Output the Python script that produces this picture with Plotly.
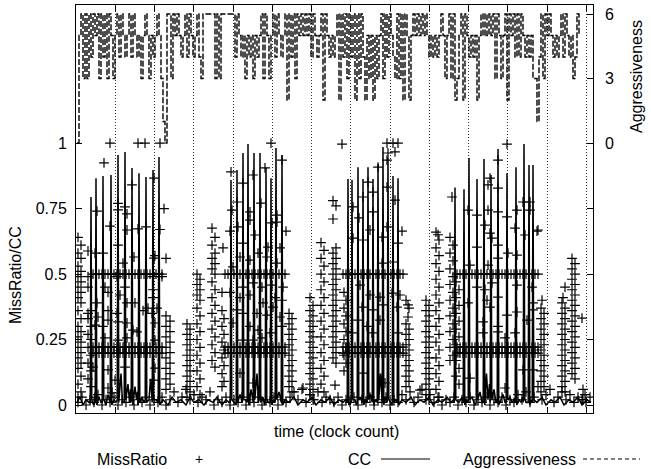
import plotly.graph_objects as go

# ---------------- data (time axis in arbitrary clock units) ----------------
# Aggressiveness level, sampled every 2 time units starting at t=1
agg_v = [0,5,6,3,6,3,6,4,6,5,
         6,3,6,4,6,3,6,5,3,5,
         6,4,6,5,4,5,6,4,6,5,
         4,5,3,5,6,5,3,5,4,5,
         6,5,3,1,0,6,6,3,6,5,
         6,5,4,5,6,4,6,5,4,5,
         6,4,3,6,6,6,6,6,6,3,
         6,3,6,6,6,6,6,6,6,4,
         6,5,4,5,3,5,4,5,3,5,
         4,5,6,3,6,5,3,5,6,4,
         6,5,4,5,6,2,6,4,6,3,
         6,5,6,5,6,5,6,4,6,5,
         4,5,6,2,6,5,4,5,4,5,
         6,2,6,4,6,3,6,4,6,2,
         6,3,6,4,2,5,3,5,2,5,
         3,5,6,3,6,4,6,5,4,3,
         6,3,6,2,6,5,2,5,6,5,
         6,5,6,5,6,5,4,5,4,5,
         4,5,6,5,3,5,6,3,6,2,
         3,5,6,2,6,5,4,5,4,5,
         2,5,6,5,6,5,6,5,6,3,
         6,5,3,5,6,2,6,5,6,4,
         6,4,6,5,4,5,4,5,3,3,
         1,4,6,3,6,5,6,5,4,5,
         4,5,6,4,6,5,4,5,3,4,
         6,5]
agg_t = list(range(1, 1 + 2 * len(agg_v), 2))

# CC (time, value)
cc_t = ([1, 4, 7, 10, 13] + [14.2, 15, 15.8, 17.5] + [19.2, 20, 20.8, 23, 25]
        + [26.2, 27, 27.8, 30, 32, 33.5] + [34.2, 35, 35.8, 38, 40]
        + [41.2, 42, 42.8, 45, 46.5] + [48.2, 49, 49.8, 52, 53.5, 54.5]
        + [55.2, 56, 56.8, 59, 60.5, 61.5] + [62.2, 63, 63.8, 66, 68]
        + [69.2, 70, 70.8, 73, 74.5, 75.5] + [76.2, 77, 77.8, 80, 81.5]
        + [82.2, 83, 83.8]
        + [87, 92, 96, 100, 105, 110, 114, 118, 123, 128, 132, 137, 141, 146, 150, 153]
        + [154.2, 155, 155.8, 158] + [160.2, 161, 161.8, 164, 165.5]
        + [166.2, 167, 167.8, 169.5] + [171.2, 172, 172.8, 175, 176.5]
        + [177.2, 178, 178.8, 181, 182.5] + [183.2, 184, 184.8, 187, 188.5]
        + [189.2, 190, 190.8, 192.5] + [194.2, 195, 195.8, 197.5]
        + [199.2, 200, 200.8, 203, 204.5] + [205.2, 206, 206.8]
        + [209, 213, 218, 222, 227, 231, 236, 240, 245, 249, 254, 258, 263, 267, 270]
        + [271.2, 272, 272.8] + [275.2, 276, 276.8, 279, 280.5]
        + [281.2, 282, 282.8, 284.5] + [286.2, 287, 287.8, 289.5]
        + [291.2, 292, 292.8, 294.5] + [296.2, 297, 297.8, 299.5]
        + [301.2, 302, 302.8, 304.5, 305.5] + [306.2, 307, 307.8, 309.5]
        + [311.2, 312, 312.8, 314.5] + [316.2, 317, 317.8, 319.5]
        + [321.2, 322, 322.8]
        + [326, 330, 335, 339, 344, 348, 353, 357, 362, 366, 371, 375, 377.5]
        + [378.2, 379, 379.8, 383, 386] + [387.2, 388, 388.8, 390.5]
        + [392.2, 393, 393.8, 396, 398, 399.5] + [400.2, 401, 401.8, 404, 406]
        + [407.2, 408, 408.8, 410.5, 412, 413.5] + [414.2, 415, 415.8, 418, 420]
        + [421.2, 422, 422.8, 425, 427, 429] + [430.2, 431, 431.8, 434, 436, 438]
        + [439.2, 440, 440.8, 443, 445, 446.5] + [447.2, 448, 448.8, 450.5]
        + [452.2, 453, 453.8, 455.5] + [456.2, 457, 457.8]
        + [461, 466, 470, 475, 479, 484, 488, 493, 497, 502, 506, 511, 515])
cc_v = ([0.01, 0.03, 0.0, 0.02, 0.01] + [0.01, 0.794, 0.02, 0.0] + [0.01, 0.866, 0.0, 0.03, 0.01]
        + [0.01, 0.874, 0.02, 0.0, 0.04, 0.01] + [0.01, 0.878, 0.0, 0.02, 0.01]
        + [0.02, 0.954, 0.01, 0.12, 0.01] + [0.01, 0.966, 0.02, 0.08, 0.01, 0.06]
        + [0.01, 0.905, 0.0, 0.07, 0.02, 0.05] + [0.0, 0.885, 0.01, 0.03, 0.01]
        + [0.02, 0.870, 0.01, 0.02, 0.1, 0.01] + [0.01, 0.897, 0.02, 0.02, 0.01]
        + [0.01, 0.947, 0.0]
        + [0.02, 0.0, 0.03, 0.01, 0.02, 0.0, 0.03, 0.01, 0.02, 0.0, 0.02, 0.01, 0.03, 0.0, 0.02, 0.01]
        + [0.01, 0.859, 0.02, 0.01] + [0.0, 0.897, 0.01, 0.04, 0.01]
        + [0.01, 0.962, 0.02, 0.02] + [0.01, 0.996, 0.0, 0.06, 0.01]
        + [0.01, 0.962, 0.02, 0.12, 0.01] + [0.02, 0.962, 0.01, 0.03, 0.0]
        + [0.01, 0.905, 0.02, 0.01] + [0.01, 0.866, 0.0, 0.02]
        + [0.01, 0.981, 0.02, 0.05, 0.01] + [0.01, 0.954, 0.0]
        + [0.02, 0.01, 0.03, 0.0, 0.02, 0.01, 0.03, 0.0, 0.02, 0.01, 0.03, 0.0, 0.02, 0.01, 0.02]
        + [0.01, 0.863, 0.0] + [0.01, 0.859, 0.02, 0.02, 0.0]
        + [0.01, 0.908, 0.02, 0.03] + [0.01, 0.863, 0.0, 0.02]
        + [0.01, 0.908, 0.02, 0.04] + [0.01, 0.863, 0.0, 0.02]
        + [0.01, 0.920, 0.02, 0.12, 0.01] + [0.01, 0.985, 0.0, 0.03]
        + [0.01, 0.943, 0.02, 0.01] + [0.0, 0.874, 0.01, 0.02]
        + [0.01, 0.866, 0.0]
        + [0.02, 0.01, 0.03, 0.0, 0.02, 0.01, 0.03, 0.0, 0.02, 0.01, 0.03, 0.01, 0.02]
        + [0.01, 0.83, 0.02, 0.01, 0.03] + [0.01, 0.824, 0.0, 0.02]
        + [0.01, 0.943, 0.02, 0.03, 0.01, 0.0] + [0.01, 0.863, 0.02, 0.05, 0.01]
        + [0.01, 0.939, 0.0, 0.12, 0.02, 0.08] + [0.01, 0.878, 0.02, 0.06, 0.01]
        + [0.01, 0.977, 0.0, 0.02, 0.04, 0.01] + [0.01, 0.885, 0.02, 0.03, 0.01, 0.02]
        + [0.01, 0.908, 0.0, 0.02, 0.01, 0.03] + [0.01, 0.996, 0.02, 0.01]
        + [0.01, 0.916, 0.0, 0.02] + [0.01, 0.916, 0.02]
        + [0.01, 0.03, 0.0, 0.02, 0.01, 0.03, 0.0, 0.02, 0.01, 0.03, 0.0, 0.02, 0.01])

# MissRatio: near-zero samples every 4 time units
base_v = [0.01,0.03,0.0,0.02,0.01,0.04,0.0,0.02,0.01,0.03,
          0.0,0.02,0.01,0.03,0.0,0.02,0.01,0.03,0.0,0.02,
          0.01,0.03,0.0,0.02,0.05,0.01,0.03,0.06,0.02,0.04,
          0.01,0.03,0.02,0.05,0.0,0.02,0.01,0.03,0.0,0.02,
          0.01,0.03,0.0,0.02,0.01,0.03,0.0,0.02,0.01,0.03,
          0.0,0.02,0.01,0.03,0.05,0.02,0.06,0.01,0.04,0.02,
          0.05,0.01,0.03,0.02,0.01,0.03,0.0,0.02,0.01,0.03,
          0.0,0.02,0.01,0.03,0.0,0.02,0.01,0.03,0.0,0.02,
          0.01,0.04,0.02,0.05,0.01,0.03,0.06,0.02,0.04,0.01,
          0.03,0.0,0.02,0.01,0.03,0.0,0.02,0.01,0.03,0.0,
          0.02,0.01,0.03,0.0,0.02,0.01,0.03,0.0,0.02,0.01,
          0.04,0.02,0.05,0.01,0.03,0.07,0.02,0.04,0.06,0.01,
          0.03,0.05,0.02,0.04,0.01,0.03,0.02,0.01,0.03]
base_t = list(range(2, 2 + 4 * len(base_v), 4))

# MissRatio: recurring levels during the four active phases
rowA_t = [17, 20, 23, 26, 29, 32, 35, 38, 41, 44, 47, 50, 53, 56, 59, 62, 65, 68, 71, 74, 77, 80, 83, 86]
rowB_t = [149, 152, 155, 158, 161, 164, 167, 170, 173, 176, 179, 182, 185, 188, 191, 194, 197, 200, 203, 206, 209]
rowC_t = [267, 270, 273, 276, 279, 282, 285, 288, 291, 294, 297, 300, 303, 306, 309, 312, 315, 318, 321, 324, 327]
rowD_t = [381, 384, 387, 390, 393, 396, 399, 402, 405, 408, 411, 414, 417, 420, 423, 426, 429, 432, 435, 438,
          441, 444, 447, 450, 453, 456, 459, 462]
row_levels = [0.5, 0.221, 0.198]

# MissRatio: scattered samples in each phase
scA_t = [34, 62, 69, 84, 28, 88, 21, 42, 49, 42, 56, 78, 51, 84, 34, 42, 51, 62, 70, 12, 19, 27, 47, 58, 78, 79, 90,
         12, 41, 49, 77, 86, 77, 29, 32, 44, 21, 51, 59, 77, 81, 67, 72, 76, 32, 22, 41, 12, 19, 27, 32, 42, 51,
         57, 61, 79, 79, 29, 42, 51, 17, 32, 49, 79, 78, 39, 32, 19, 36]
scA_v = [1.0, 1.0, 1.0, 1.0, 0.924, 0.75, 0.74, 0.77, 0.756, 0.745, 0.84, 0.866, 0.73, 0.67, 0.683, 0.61, 0.668,
         0.672, 0.68, 0.588, 0.58, 0.58, 0.542, 0.565, 0.561, 0.57, 0.56, 0.49, 0.49, 0.45, 0.49, 0.49, 0.44,
         0.45, 0.43, 0.42, 0.39, 0.39, 0.39, 0.41, 0.37, 0.36, 0.37, 0.35, 0.36, 0.336, 0.35, 0.35, 0.305, 0.3,
         0.324, 0.317, 0.313, 0.286, 0.279, 0.313, 0.248, 0.256, 0.248, 0.256, 0.145, 0.134, 0.145, 0.141,
         0.095, 0.095, 0.065, 0.03, 0.046]
scB_t = [195, 206, 189, 155, 177, 167, 161, 185, 156, 174, 174, 201, 201, 154, 162, 179, 210, 196, 167, 192, 204,
         182, 164, 174, 191, 201, 157, 167, 177, 186, 196, 207, 154, 164, 174, 187, 199, 206, 161, 167, 181, 191,
         197, 204, 157, 174, 182, 194, 206, 177, 186, 167, 177, 164, 227, 147, 146]
scB_v = [1.0, 0.935, 0.905, 0.89, 0.878, 0.847, 0.775, 0.771, 0.744, 0.737, 0.706, 0.725, 0.698, 0.664, 0.68,
         0.649, 0.664, 0.695, 0.618, 0.603, 0.6, 0.58, 0.565, 0.553, 0.565, 0.542, 0.527, 0.45, 0.466, 0.45,
         0.458, 0.45, 0.43, 0.41, 0.42, 0.39, 0.41, 0.40, 0.363, 0.35, 0.35, 0.343, 0.374, 0.336, 0.313, 0.3,
         0.286, 0.275, 0.3, 0.248, 0.256, 0.248, 0.084, 0.122, 0.065, 0.6, 0.43]
scC_t = [266, 311, 317, 322, 312, 319, 311, 302, 292, 297, 287, 277, 319, 283, 297, 311, 326, 294, 306, 277, 287,
         322, 311, 317, 306, 284, 294, 304, 316, 324, 286, 297, 307, 321, 332, 282, 291, 304, 296, 276, 322, 332,
         287, 309, 344, 259, 376, 362]
scC_v = [0.996, 1.0, 1.0, 1.0, 0.962, 0.966, 0.935, 0.908, 0.851, 0.813, 0.794, 0.756, 0.782, 0.714, 0.737,
         0.832, 0.664, 0.668, 0.641, 0.637, 0.63, 0.618, 0.68, 0.546, 0.542, 0.458, 0.42, 0.412, 0.427, 0.42,
         0.374, 0.363, 0.382, 0.374, 0.382, 0.324, 0.3, 0.324, 0.275, 0.275, 0.275, 0.336, 0.122, 0.084, 0.057,
         0.076, 0.794, 0.65]
scD_t = [431, 422, 414, 412, 422, 392, 401, 412, 422, 431, 441, 447, 454, 454, 409, 414, 416, 422, 432, 439, 449,
         461, 394, 412, 422, 441, 401, 401, 409, 416, 441, 456, 392, 411, 422, 441, 457, 407, 414, 422, 431, 451,
         457, 407, 422, 439, 429, 394, 429, 447, 457, 466, 489, 487, 506, 462]
scD_v = [0.996, 0.935, 0.866, 0.84, 0.828, 0.744, 0.725, 0.744, 0.737, 0.718, 0.744, 0.775, 0.775, 0.744, 0.687,
         0.656, 0.637, 0.61, 0.58, 0.675, 0.649, 0.664, 0.534, 0.534, 0.561, 0.572, 0.603, 0.45, 0.44, 0.466,
         0.458, 0.45, 0.39, 0.4, 0.412, 0.355, 0.39, 0.317, 0.374, 0.3, 0.343, 0.324, 0.363, 0.275, 0.279, 0.275,
         0.256, 0.103, 0.065, 0.134, 0.134, 0.4, 0.45, 0.41, 0.332, 0.668]

# MissRatio: dense bursts between phases (two neighbouring sample times each)
stack_t0 = [2, 12, 90, 111, 121, 136, 146, 213, 234, 245, 257, 268, 330, 350, 360, 374, 380, 465, 486, 496, 507]
stack_t1 = [5, 15, 94, 114, 124, 139, 148, 216, 237, 248, 260, 270, 333, 353, 363, 377, 383, 468, 489, 499, 509]
stack_vals = [
    [0.64, 0.61, 0.58, 0.56, 0.53, 0.51, 0.49, 0.47, 0.45, 0.43, 0.41, 0.39, 0.36, 0.33, 0.30, 0.28, 0.26, 0.24,
     0.22, 0.20, 0.18, 0.16, 0.14, 0.11, 0.08, 0.05, 0.03],
    [0.45, 0.36, 0.33, 0.30, 0.27, 0.25, 0.22, 0.19, 0.16, 0.13, 0.10, 0.07],
    [0.34, 0.32, 0.30, 0.28, 0.26, 0.24, 0.22, 0.20, 0.18, 0.16, 0.14, 0.12, 0.10, 0.08, 0.06],
    [0.31, 0.29, 0.27, 0.25, 0.23, 0.21, 0.19, 0.17, 0.15, 0.13, 0.11, 0.09, 0.07, 0.05, 0.03],
    [0.50, 0.48, 0.46, 0.44, 0.42, 0.40, 0.37, 0.34, 0.31, 0.28, 0.25, 0.22, 0.19, 0.16, 0.13, 0.10, 0.07, 0.04],
    [0.675, 0.64, 0.61, 0.58, 0.56, 0.54, 0.52, 0.50, 0.47, 0.44, 0.41, 0.38, 0.35, 0.32, 0.29, 0.26, 0.23, 0.20,
     0.17, 0.145],
    [0.36, 0.33, 0.30, 0.27, 0.24, 0.21, 0.18, 0.15, 0.12, 0.09, 0.07],
    [0.35, 0.33, 0.31, 0.29, 0.27, 0.25, 0.23, 0.21, 0.19, 0.17, 0.15, 0.13, 0.11, 0.09, 0.07, 0.05],
    [0.41, 0.38, 0.36, 0.34, 0.32, 0.30, 0.28, 0.26, 0.24, 0.22, 0.20, 0.18, 0.16, 0.14, 0.12, 0.10, 0.08, 0.06,
     0.04, 0.02],
    [0.62, 0.59, 0.56, 0.53, 0.50, 0.47, 0.44, 0.41, 0.38, 0.35, 0.32, 0.29, 0.26, 0.23, 0.20, 0.17, 0.14, 0.11,
     0.08, 0.05],
    [0.78, 0.76, 0.71, 0.60, 0.58, 0.56, 0.54, 0.52, 0.50, 0.48, 0.46, 0.44, 0.42, 0.40, 0.38, 0.36, 0.34, 0.32,
     0.30, 0.28, 0.26, 0.24, 0.22, 0.20, 0.18, 0.16],
    [0.43, 0.40, 0.37, 0.34, 0.31, 0.28, 0.25, 0.22, 0.19, 0.16, 0.13],
    [0.40, 0.37, 0.31, 0.29, 0.27, 0.25, 0.23, 0.21, 0.19, 0.17, 0.15, 0.13, 0.11, 0.09, 0.07],
    [0.40, 0.38, 0.36, 0.34, 0.32, 0.30, 0.28, 0.26, 0.24, 0.22, 0.20, 0.18, 0.16, 0.14, 0.12, 0.10, 0.08, 0.06,
     0.04, 0.02],
    [0.66, 0.63, 0.60, 0.57, 0.54, 0.51, 0.48, 0.45, 0.42, 0.39, 0.36, 0.33, 0.30, 0.27, 0.24, 0.21, 0.18, 0.15,
     0.12, 0.09, 0.06, 0.03],
    [0.64, 0.61, 0.58, 0.55, 0.52, 0.49, 0.46, 0.43, 0.40, 0.37, 0.34, 0.31, 0.28, 0.25, 0.22, 0.19, 0.17],
    [0.47, 0.44, 0.41, 0.38, 0.35, 0.32, 0.29, 0.26, 0.23, 0.20, 0.17, 0.14, 0.11, 0.08],
    [0.37, 0.35, 0.33, 0.31, 0.29, 0.27, 0.25, 0.23, 0.21, 0.19, 0.17, 0.15, 0.13, 0.11, 0.09, 0.07, 0.05],
    [0.39, 0.37, 0.35, 0.33, 0.31, 0.29, 0.27, 0.25, 0.23, 0.21, 0.19, 0.17, 0.15, 0.13, 0.11, 0.09, 0.07, 0.05],
    [0.56, 0.54, 0.52, 0.50, 0.48, 0.46, 0.44, 0.42, 0.40, 0.38, 0.36, 0.34, 0.32, 0.30, 0.28, 0.26, 0.24, 0.22,
     0.20, 0.18, 0.16, 0.14, 0.12, 0.10],
    [0.06, 0.04, 0.02],
]

x_tick_step = 39.25
x_range = [0, 517]
y_range = [-0.0305, 1.527]
y2_range = [-12.56, 6.42]
y_ticks = [0, 0.25, 0.5, 0.75, 1]
y_ticktext = ["0", "0.25", "0.5", "0.75", "1"]
y2_ticks = [0, 3, 6]

# ---------------- assemble MissRatio table ----------------
assert len(cc_t) == len(cc_v)
for a, b in [(scA_t, scA_v), (scB_t, scB_v), (scC_t, scC_v), (scD_t, scD_v)]:
    assert len(a) == len(b)

miss_x, miss_y = list(base_t), list(base_v)
for rt in (rowA_t, rowB_t, rowC_t, rowD_t):
    for lv in row_levels:
        miss_x += rt
        miss_y += [lv] * len(rt)
for a, b in [(scA_t, scA_v), (scB_t, scB_v), (scC_t, scC_v), (scD_t, scD_v)]:
    miss_x += a
    miss_y += b
for t0, t1, vals in zip(stack_t0, stack_t1, stack_vals):
    for k, v in enumerate(vals):
        miss_x.append(t0 if k % 2 == 0 else t1)
        miss_y.append(v)

# ---------------- figure ----------------
FONT = "Liberation Sans, Arial, Helvetica, sans-serif"
fig = go.Figure()
fig.add_trace(go.Scatter(
    x=miss_x, y=miss_y, mode="markers", name="MissRatio", showlegend=False,
    marker=dict(symbol="cross-thin", size=7, color="black",
                line=dict(width=1.2, color="black"))))
fig.add_trace(go.Scatter(
    x=cc_t, y=cc_v, mode="lines", name="CC", showlegend=False,
    line=dict(color="black", width=1.5)))
fig.add_trace(go.Scatter(
    x=agg_t, y=agg_v, mode="lines", name="Aggressiveness", yaxis="y2", showlegend=False,
    line=dict(color="black", width=1.4, dash="6px,2px", shape="hv")))

W, H = 651, 469
L, R, T, B = 76, 58, 5, 56
pw, ph = W - L - R, H - T - B


def px(xp):
    return (xp - L) / pw


def py(yp):
    return (H - B - yp) / ph


fig.update_layout(
    width=W, height=H,
    margin=dict(l=L, r=R, t=T, b=B, pad=0),
    paper_bgcolor="white", plot_bgcolor="white",
    font=dict(family=FONT, size=16, color="black"),
    showlegend=False,
    xaxis=dict(range=x_range, tick0=0, dtick=x_tick_step, showticklabels=False,
               ticks="inside", ticklen=6, tickcolor="black", tickwidth=1,
               showline=True, linecolor="black", linewidth=1, mirror="ticks",
               showgrid=True, gridcolor="#333333", griddash="1px,2px", gridwidth=1,
               zeroline=False),
    yaxis=dict(range=y_range, tickvals=y_ticks, ticktext=y_ticktext,
               ticks="inside", ticklen=6, tickcolor="black", tickwidth=1,
               showline=True, linecolor="black", linewidth=1, mirror="ticks",
               showgrid=False, zeroline=False, ticklabelstandoff=5),
    yaxis2=dict(range=y2_range, tickvals=y2_ticks, overlaying="y", side="right",
                ticks="inside", ticklen=6, tickcolor="black", tickwidth=1,
                showline=False, showgrid=False, zeroline=False, ticklabelstandoff=11),
)

LEG_Y = 459
ann = [
    dict(text="MissRatio/CC", x=px(15), y=py(275), textangle=-90),
    dict(text="Aggressiveness", x=px(636), y=py(77), textangle=-90),
    dict(text="time (clock count)", x=px(336), y=py(431)),
    dict(text="MissRatio", x=px(169), y=py(LEG_Y), xanchor="right"),
    dict(text="+", x=px(199), y=py(LEG_Y), font=dict(size=14)),
    dict(text="CC", x=px(373), y=py(LEG_Y), xanchor="right"),
    dict(text="Aggressiveness", x=px(578), y=py(LEG_Y), xanchor="right"),
]
for a in ann:
    a.setdefault("xanchor", "center")
    a.update(xref="paper", yref="paper", yanchor="middle", showarrow=False)
    fig.add_annotation(**a)

fig.add_shape(type="line", xref="paper", yref="paper", x0=px(381), x1=px(430), y0=py(LEG_Y), y1=py(LEG_Y),
              line=dict(color="black", width=1.2))
fig.add_shape(type="line", xref="paper", yref="paper", x0=px(583), x1=px(640), y0=py(LEG_Y), y1=py(LEG_Y),
              line=dict(color="black", width=1, dash="4px,3px"))

fig.write_html("out.html", config={"displayModeBar": False},
               post_script="document.body.style.margin='0px';document.body.style.overflow='hidden';")
